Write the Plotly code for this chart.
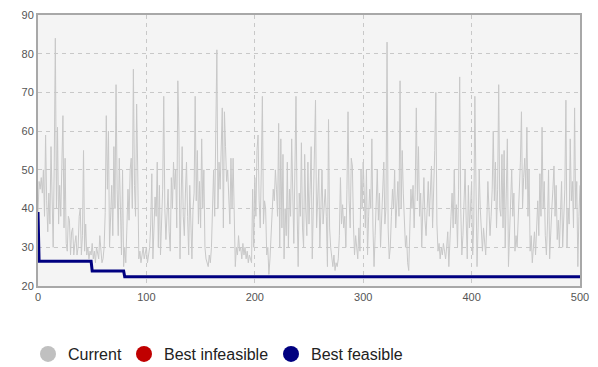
import plotly.graph_objects as go

# Objective value of the current solution at each iteration (0..500)
current = [
    39, 47, 45, 48, 44, 50, 38, 59, 42, 34,
    44, 36, 56, 37, 30, 52, 84, 40, 61, 36,
    46, 38, 55, 64, 35, 53, 31, 29, 38, 37,
    28, 34, 35, 28, 31, 33, 28, 30, 38, 40,
    28, 33, 55, 29, 36, 28, 30, 27, 29, 28,
    31, 27, 29, 26, 30, 28, 27, 33, 29, 26,
    27, 30, 39, 64, 45, 60, 30, 38, 46, 33,
    56, 40, 72, 45, 33, 53, 35, 28, 50, 25,
    30, 26, 35, 45, 37, 50, 53, 40, 76, 46,
    38, 67, 50, 27, 29, 26, 28, 30, 27, 29,
    30, 26, 29, 30, 36, 49, 27, 33, 43, 38,
    52, 30, 46, 28, 38, 45, 69, 40, 32, 38,
    45, 34, 29, 48, 40, 52, 45, 50, 35, 73,
    60, 27, 40, 56, 38, 33, 44, 52, 38, 28,
    46, 36, 27, 40, 44, 69, 42, 55, 36, 47,
    35, 58, 40, 50, 30, 27, 26, 25, 28, 26,
    30, 45, 50, 38, 60, 81, 40, 52, 45, 60,
    66, 35, 65, 56, 47, 50, 41, 36, 53, 40,
    53, 33, 25, 30, 28, 33, 29, 30, 27, 31,
    28, 30, 27, 29, 26, 28, 27, 26, 45, 30,
    48, 38, 55, 59, 42, 35, 50, 69, 36, 42,
    40, 28, 30, 23, 27, 33, 38, 45, 42, 50,
    45, 38, 62, 30, 58, 35, 54, 27, 40, 33,
    52, 30, 45, 38, 58, 42, 31, 50, 69, 40,
    25, 44, 38, 57, 35, 30, 54, 40, 33, 52,
    36, 45, 56, 27, 40, 50, 68, 35, 42, 50,
    30, 44, 50, 36, 40, 45, 38, 25, 63, 35,
    30, 27, 25, 28, 24, 26, 25, 27, 33, 48,
    36, 41, 35, 38, 30, 45, 65, 42, 35, 53,
    51, 36, 28, 33, 30, 27, 35, 29, 50, 40,
    52, 44, 35, 50, 28, 38, 45, 40, 58, 35,
    25, 33, 40, 50, 37, 44, 30, 38, 45, 52,
    36, 40, 83, 35, 27, 30, 38, 45, 40, 50,
    35, 42, 47, 38, 73, 40, 55, 44, 37, 30,
    33, 26, 24, 35, 45, 40, 46, 35, 45, 66,
    42, 56, 38, 44, 30, 40, 48, 37, 33, 40,
    47, 38, 45, 51, 35, 43, 55, 70, 36, 29,
    31, 27, 30, 28, 31, 29, 27, 30, 34, 25,
    30, 38, 44, 35, 50, 36, 41, 30, 45, 74,
    40, 28, 33, 45, 50, 37, 27, 46, 35, 40,
    47, 28, 36, 69, 38, 25, 35, 50, 40, 33,
    29, 35, 31, 28, 36, 47, 40, 33, 38, 45,
    60, 42, 52, 35, 45, 72, 40, 38, 54, 35,
    55, 30, 44, 58, 25, 35, 42, 50, 38, 44,
    29, 33, 30, 37, 45, 52, 65, 40, 48, 53,
    45, 61, 38, 50, 29, 33, 26, 30, 34, 28,
    37, 42, 33, 49, 38, 61, 40, 47, 33, 28,
    36, 50, 27, 35, 40, 45, 51, 38, 46, 32,
    37, 30, 42, 47, 30, 38, 45, 68, 30, 40,
    36, 58, 42, 47, 35, 66, 40, 47, 25, 38,
    46,
]
iterations = list(range(len(current)))

# Iterations where a new best feasible solution was found, and its value
best_change_iters = [0, 1, 50, 80]
best_change_values = [39.1, 26.4, 23.9, 22.4]

# Best feasible value carried forward over all iterations
best_feasible = []
level = None
for it in iterations:
    if it in best_change_iters:
        level = best_change_values[best_change_iters.index(it)]
    best_feasible.append(level)

series_names = ["Current", "Best infeasible", "Best feasible"]
series_colors = ["#c0c0c0", "#c00000", "#000080"]
legend_ids = ["legend", "legend2", "legend3"]
legend_left_px = [28, 124, 271]

W, H = 598, 367

fig = go.Figure()

fig.add_trace(go.Scatter(
    x=iterations, y=current, mode="lines",
    line=dict(color="#c8c8c8", width=1),
    showlegend=False, hoverinfo="skip",
))
fig.add_trace(go.Scatter(
    x=iterations, y=best_feasible, mode="lines",
    line=dict(color="#000080", width=3),
    showlegend=False, hoverinfo="skip",
))

# Legend entries drawn as round markers, one legend box per entry
for name, color, lid in zip(series_names, series_colors, legend_ids):
    fig.add_trace(go.Scatter(
        x=[None], y=[None], mode="markers", name=name, legend=lid,
        marker=dict(color=color, size=19, symbol="circle"),
    ))

grid = dict(showgrid=True, gridcolor="#c8c8c8", griddash="4px,4px", gridwidth=1,
            showline=True, linecolor="#a8a8a8", linewidth=2, mirror=True,
            zeroline=False, ticks="",
            tickfont=dict(family="Arial, Liberation Sans", size=11, color="#555555"))

legend_style = dict(orientation="h", xref="container", xanchor="left",
                    y=1 - 354 / H, yref="container", yanchor="middle",
                    font=dict(family="Arial, Liberation Sans", size=16, color="#222222"),
                    itemsizing="trace", bgcolor="rgba(0,0,0,0)")

fig.update_layout(
    width=W, height=H,
    margin=dict(l=38, r=18, t=15, b=81, autoexpand=False),
    paper_bgcolor="#ffffff", plot_bgcolor="#f4f4f4",
    xaxis=dict(range=[0, 500], tickvals=[0, 100, 200, 300, 400, 500], **grid),
    yaxis=dict(range=[20, 90], tickvals=[20, 30, 40, 50, 60, 70, 80, 90], **grid),
    showlegend=True,
)
for lid, left in zip(legend_ids, legend_left_px):
    fig.update_layout({lid: dict(x=left / W, **legend_style)})

fig.write_html("out.html")
